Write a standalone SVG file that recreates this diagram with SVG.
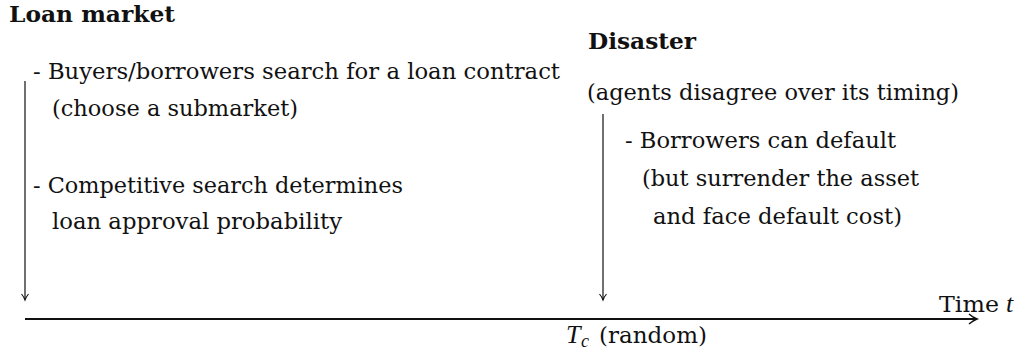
<svg xmlns="http://www.w3.org/2000/svg" width="1022" height="351" viewBox="0 0 1022 351">
<style>
text{font-family:"DejaVu Serif","Liberation Serif",serif;font-size:23px;fill:#111}
.b{font-weight:bold}
.i{font-style:italic;font-family:"Liberation Serif","DejaVu Serif",serif;font-size:26px}
.sub{font-size:18px}
.ln{stroke:#111;fill:none}
</style>
<defs>
<marker id="ah" markerWidth="10" markerHeight="10" refX="8" refY="5" orient="auto" markerUnits="userSpaceOnUse">
<path d="M2,1.5 Q5,4 8,5 Q5,6 2,8.5" fill="none" stroke="#111" stroke-width="1.1"/>
</marker>
<marker id="ah2" markerWidth="14" markerHeight="14" refX="11" refY="7" orient="auto" markerUnits="userSpaceOnUse">
<path d="M3,2 Q7,5.5 11,7 Q7,8.5 3,12" fill="none" stroke="#111" stroke-width="1.5"/>
</marker>
</defs>
<g id="connectors">
<line class="ln" x1="25" y1="81" x2="25" y2="300" stroke-width="1.2" marker-end="url(#ah)"/>
<line class="ln" x1="603" y1="114" x2="603" y2="300" stroke-width="1.2" marker-end="url(#ah)"/>
<line class="ln" x1="25" y1="319" x2="977" y2="319" stroke-width="2" marker-end="url(#ah2)"/>
</g>
<g id="loan-market">
<text class="b" x="9" y="22" textLength="166" lengthAdjust="spacingAndGlyphs">Loan market</text>
<text x="33" y="79" textLength="527" lengthAdjust="spacingAndGlyphs">- Buyers/borrowers search for a loan contract</text>
<text x="52" y="116" textLength="246" lengthAdjust="spacingAndGlyphs">(choose a submarket)</text>
<text x="33" y="193" textLength="370" lengthAdjust="spacingAndGlyphs">- Competitive search determines</text>
<text x="52" y="229" textLength="290" lengthAdjust="spacingAndGlyphs">loan approval probability</text>
</g>
<g id="disaster">
<text class="b" x="588" y="49" textLength="108" lengthAdjust="spacingAndGlyphs">Disaster</text>
<text x="587" y="100" textLength="372" lengthAdjust="spacingAndGlyphs">(agents disagree over its timing)</text>
<text x="625" y="148" textLength="271" lengthAdjust="spacingAndGlyphs">- Borrowers can default</text>
<text x="642" y="186" textLength="277" lengthAdjust="spacingAndGlyphs">(but surrender the asset</text>
<text x="653" y="224" textLength="249" lengthAdjust="spacingAndGlyphs">and face default cost)</text>
</g>
<g id="time-axis">
<text x="939" y="312" textLength="60" lengthAdjust="spacingAndGlyphs">Time</text>
<text class="i" x="1006" y="312">t</text>
<text class="i" x="566" y="343">T</text>
<text class="i sub" x="581" y="347">c</text>
<text x="599" y="343" textLength="108" lengthAdjust="spacingAndGlyphs">(random)</text>
</g>
</svg>
